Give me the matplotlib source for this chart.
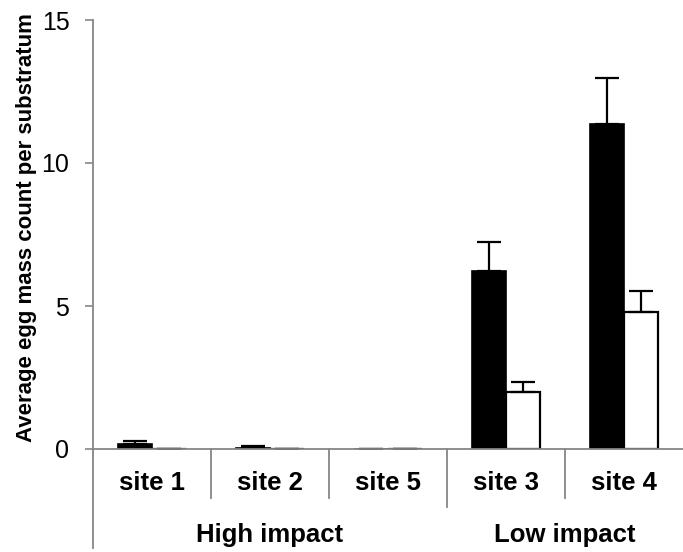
import matplotlib
matplotlib.use("Agg")
import matplotlib.pyplot as plt
import matplotlib.transforms as mtransforms
import numpy as np

# data
sites = ["site 1", "site 2", "site 5", "site 3", "site 4"]
groups = ["High impact", "Low impact"]
group_sizes = [3, 2]
black_vals = [0.19, 0.05, 0.0, 6.22, 11.36]
black_err = [0.10, 0.05, 0.0, 1.02, 1.61]
white_vals = [0.0, 0.0, 0.0, 2.01, 4.79]
white_err = [0.0, 0.0, 0.0, 0.34, 0.73]

plt.rcParams['font.family'] = ['Liberation Sans', 'DejaVu Sans']

W, H = 683, 552
fig = plt.figure(figsize=(W / 100, H / 100), dpi=100)
left, right, top, bottom = 93, 683, 20, 449
ax = fig.add_axes([left / W, 1 - bottom / H, (right - left) / W, (bottom - top) / H])

x = np.arange(len(sites))
bw = 0.288
grey = "#868686"

ax.bar(x - bw / 2, black_vals, bw, color="black", edgecolor="black", linewidth=1.2,
       yerr=[np.zeros(len(sites)), black_err], capsize=8.5,
       error_kw=dict(elinewidth=1.6, capthick=1.6, ecolor="black"))
ax.bar(x + bw / 2, white_vals, bw, color="white", edgecolor="black", linewidth=1.6,
       yerr=[np.zeros(len(sites)), white_err], capsize=8.5,
       error_kw=dict(elinewidth=1.6, capthick=1.6, ecolor="black"))

ax.set_xlim(-0.5, len(sites) - 0.5)
ax.set_ylim(0, 15)
ax.set_yticks([0, 5, 10, 15])
ax.tick_params(axis="y", direction="out", length=6, width=1.2, color=grey,
               labelsize=18, pad=11)
ax.set_xticks([])

for s in ["top", "right"]:
    ax.spines[s].set_visible(False)
ax.spines["left"].set_color(grey)
ax.spines["left"].set_linewidth(1.3)
ax.spines["bottom"].set_color(grey)
ax.spines["bottom"].set_linewidth(1.3)

ax.set_ylabel("Average egg mass count per substratum", fontsize=16,
              fontweight="bold")
ax.yaxis.set_label_coords((37 - left) / (right - left), (bottom - 228) / (bottom - top))

# category axis: separators, site labels, group labels
px = 1.0 / (bottom - top)
trans = mtransforms.blended_transform_factory(ax.transData, ax.transAxes)
ax.plot([-0.5, -0.5], [0, -(548 - bottom) * px], transform=trans, color=grey,
        lw=1.3, clip_on=False)
edges = np.cumsum(group_sizes)[:-1]
for i in range(1, len(sites)):
    depth = 58 if i in edges else 49
    ax.plot([i - 0.5, i - 0.5], [0, -depth * px], transform=trans, color=grey,
            lw=1.3, clip_on=False)

for i, s in enumerate(sites):
    ax.text(i, -(483 - bottom) * px, s, transform=trans, ha="center", va="center",
            fontsize=18.5, fontweight="bold")

start = 0
for g, n in zip(groups, group_sizes):
    ax.text(start + (n - 1) / 2, -(535 - bottom) * px, g, transform=trans,
            ha="center", va="center", fontsize=18.5, fontweight="bold")
    start += n

fig.savefig("out.png", dpi=100)
